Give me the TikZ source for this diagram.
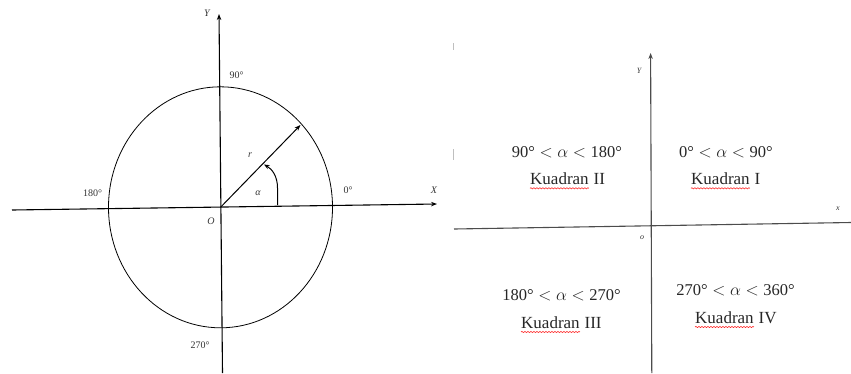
\documentclass[tikz,border=0pt]{standalone}
\usepackage{fontspec}
\setmainfont{Liberation Serif}
\usetikzlibrary{arrows.meta,decorations.pathmorphing}
\tikzset{
  axis/.style={line width=1.1pt,-{Stealth[length=6pt,width=4.5pt]}},
  axisgray/.style={line width=1.1pt,draw=black!70},
  thin line/.style={line width=0.8pt},
  smalllbl/.style={font=\fontsize{10}{12}\selectfont,inner sep=0pt,text=black!80},
  italbl/.style={font=\fontsize{10}{12}\selectfont\itshape,inner sep=0pt,text=black!80},
  rangelbl/.style={font=\fontsize{16.5}{20}\selectfont,inner sep=0pt,text=black!85,anchor=base},
  kuad/.style={font=\fontsize{17}{20}\selectfont,inner sep=0pt,text=black!85,anchor=base west},
  squig/.style={draw=red!85,line width=0.6pt,decorate,decoration={snake,segment length=3pt,amplitude=0.6pt}},
  faint/.style={draw=black!25,line width=0.8pt}
}
\newcommand{\rng}[2]{#1°\hspace{0.28em}$<$\hspace{0.28em}$\alpha$\hspace{0.28em}$<$\hspace{0.28em}#2°}
\begin{document}
\begin{tikzpicture}[x=1pt,y=-1pt]
\useasboundingbox (0,0) rectangle (851,373);
% ---------- left panel ----------
\coordinate (O) at (220.5,207.3);
\coordinate (xl) at (12,210);
\coordinate (xr) at (437,204);
\coordinate (yb) at (222.5,373);
\coordinate (yt) at (219,14);
\coordinate (P) at (300.5,125);
\draw[axis] (xl) -- (xr);
\draw[axis] (yb) -- (yt);
\draw[thin line] (O) ellipse [x radius=112, y radius=120.5];
\draw[line width=1pt,-{Stealth[length=6pt,width=4.5pt]}] (O) -- (P);
\coordinate (a0) at (277.5,205);
\coordinate (a1) at (264,164.5);
\draw[line width=1pt,-{Stealth[length=5.5pt,width=4.5pt]}] (a0) -- (277.5,188) .. controls (277.5,176) and (272,169) .. (a1);
\node[italbl] (ly) at (207,13) {Y};
\node[italbl] (lx) at (434,190) {X};
\node[italbl] (lo) at (211,221) {O};
\node[italbl] (lr) at (250,155) {r};
\node[italbl] (la) at (258,193) {α};
\node[smalllbl] (l90) at (236.5,75) {90°};
\node[smalllbl] (l0) at (348,190) {0°};
\node[smalllbl] (l180) at (92.5,193) {180°};
\node[smalllbl] (l270) at (200,345) {270°};
% ---------- right panel ----------
\coordinate (Q) at (651,225.5);
\coordinate (Xl) at (454,229);
\coordinate (Xr) at (851,222.5);
\coordinate (Yb) at (651.8,373);
\coordinate (Yt) at (650.6,53);
\draw[axisgray] (Xl) -- (Xr);
\draw[axisgray,-{Stealth[length=6pt,width=4.5pt]}] (Yb) -- (Yt);
\draw[faint] (453.5,43) -- (453.5,50);
\draw[faint] (453.5,149) -- (453.5,160);
\node[italbl,font=\fontsize{8}{10}\selectfont\itshape] (rY) at (639,71) {Y};
\node[italbl,font=\fontsize{8}{10}\selectfont\itshape] (rx) at (838,209) {x};
\node[italbl,font=\fontsize{8}{10}\selectfont\itshape] (ro) at (642,238) {o};
% ranges
\node[rangelbl] (r2) at (567,157) {\rng{90}{180}};
\node[rangelbl] (r1) at (726,157) {\rng{0}{90}};
\node[rangelbl] (r3) at (561.5,300) {\rng{180}{270}};
\node[rangelbl] (r4) at (735.5,295) {\rng{270}{360}};
% Kuadran labels
\node[kuad] (k2) at (530,184.3) {Kuadran};
\node[kuad] (k2n) at ([xshift=4.5pt]k2.base east) {II};
\node[kuad] (k1) at (691,184.3) {Kuadran};
\node[kuad] (k1n) at ([xshift=4.5pt]k1.base east) {I};
\node[kuad] (k3) at (521,328) {Kuadran};
\node[kuad] (k3n) at ([xshift=4.5pt]k3.base east) {III};
\node[kuad] (k4) at (695,323) {Kuadran};
\node[kuad] (k4n) at ([xshift=4.5pt]k4.base east) {IV};
\foreach \k in {k1,k2,k3,k4}{
  \draw[squig] ([yshift=-4pt]\k.base west) -- ([yshift=-4pt]\k.base east);
}
\end{tikzpicture}
\end{document}
